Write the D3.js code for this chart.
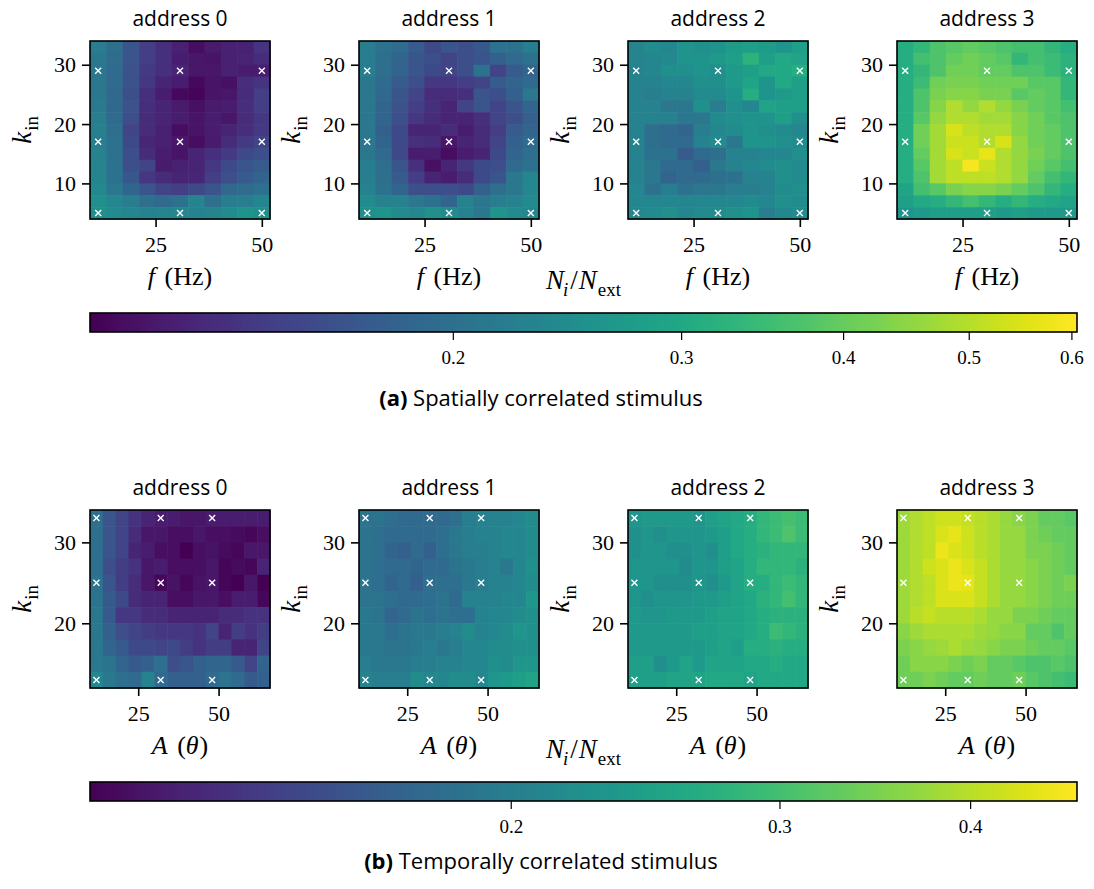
<!DOCTYPE html>
<html>
<head>
<meta charset="utf-8">
<script src="https://cdn.jsdelivr.net/npm/d3@7"></script>
<style>
  body { margin: 0; background: #fff; }
  .serif { font-family: "Liberation Serif", "DejaVu Serif", serif; }
  .sans { font-family: "Open Sans", "DejaVu Sans", sans-serif; }
</style>
</head>
<body>
<svg id="fig" width="1094" height="889"></svg>
<script>
"use strict";

// ---- data: (a) spatially correlated stimulus, rows k_in = 33 .. 5 ----
const freqHz = [11.5, 15.35, 19.2, 23.05, 26.9, 30.75, 34.6, 38.45, 42.3, 46.15, 50];
const kInSpatial = [33, 31, 29, 27, 25, 23, 21, 19, 17, 15, 13, 11, 9, 7, 5];
const spatialTicksX = [25, 50];
const spatialTicksK = [10, 20, 30];
const spatialMarkF = [11.5, 30.75, 50];
const spatialMarkK = [5, 17, 29];
const spatialCbarRange = [0.105, 0.606];
const spatialCbarTicks = [0.2, 0.3, 0.4, 0.5, 0.6];

const spatialAddr0 = [
  [0.219, 0.198, 0.166, 0.144, 0.134, 0.123, 0.111, 0.119, 0.123, 0.123, 0.137],
  [0.211, 0.194, 0.166, 0.144, 0.134, 0.121, 0.117, 0.115, 0.123, 0.125, 0.130],
  [0.211, 0.191, 0.163, 0.141, 0.134, 0.125, 0.117, 0.117, 0.123, 0.121, 0.121],
  [0.211, 0.191, 0.163, 0.139, 0.125, 0.121, 0.109, 0.115, 0.113, 0.132, 0.137],
  [0.211, 0.188, 0.160, 0.134, 0.121, 0.109, 0.107, 0.115, 0.117, 0.130, 0.144],
  [0.215, 0.188, 0.163, 0.132, 0.125, 0.119, 0.113, 0.119, 0.121, 0.132, 0.144],
  [0.219, 0.191, 0.160, 0.130, 0.125, 0.121, 0.115, 0.121, 0.117, 0.130, 0.139],
  [0.223, 0.198, 0.149, 0.130, 0.123, 0.111, 0.115, 0.121, 0.125, 0.132, 0.141],
  [0.219, 0.201, 0.155, 0.127, 0.123, 0.117, 0.111, 0.119, 0.130, 0.141, 0.149],
  [0.227, 0.204, 0.160, 0.130, 0.121, 0.115, 0.125, 0.134, 0.141, 0.155, 0.160],
  [0.231, 0.204, 0.160, 0.149, 0.119, 0.123, 0.125, 0.139, 0.155, 0.166, 0.172],
  [0.231, 0.204, 0.169, 0.139, 0.130, 0.125, 0.127, 0.144, 0.160, 0.172, 0.185],
  [0.239, 0.211, 0.185, 0.166, 0.149, 0.144, 0.155, 0.166, 0.188, 0.194, 0.204],
  [0.252, 0.235, 0.219, 0.198, 0.191, 0.204, 0.231, 0.198, 0.219, 0.219, 0.235],
  [0.252, 0.243, 0.235, 0.227, 0.231, 0.235, 0.227, 0.231, 0.243, 0.261, 0.252]
];
const spatialAddr1 = [
  [0.219, 0.204, 0.194, 0.172, 0.155, 0.166, 0.160, 0.169, 0.204, 0.204, 0.219],
  [0.219, 0.198, 0.185, 0.166, 0.160, 0.149, 0.160, 0.166, 0.178, 0.191, 0.204],
  [0.219, 0.198, 0.185, 0.166, 0.155, 0.149, 0.160, 0.204, 0.149, 0.172, 0.185],
  [0.211, 0.191, 0.172, 0.160, 0.139, 0.139, 0.144, 0.149, 0.172, 0.185, 0.191],
  [0.211, 0.188, 0.166, 0.149, 0.130, 0.130, 0.134, 0.166, 0.160, 0.178, 0.211],
  [0.211, 0.185, 0.163, 0.144, 0.134, 0.125, 0.149, 0.166, 0.149, 0.166, 0.185],
  [0.211, 0.185, 0.160, 0.139, 0.130, 0.125, 0.125, 0.134, 0.149, 0.160, 0.178],
  [0.211, 0.178, 0.155, 0.125, 0.125, 0.130, 0.121, 0.130, 0.144, 0.172, 0.185],
  [0.211, 0.185, 0.155, 0.134, 0.130, 0.117, 0.125, 0.130, 0.149, 0.178, 0.191],
  [0.211, 0.191, 0.155, 0.121, 0.121, 0.111, 0.121, 0.125, 0.155, 0.185, 0.198],
  [0.219, 0.198, 0.166, 0.134, 0.113, 0.125, 0.139, 0.155, 0.160, 0.191, 0.204],
  [0.219, 0.198, 0.172, 0.144, 0.125, 0.121, 0.130, 0.155, 0.166, 0.211, 0.235],
  [0.227, 0.204, 0.185, 0.160, 0.160, 0.160, 0.155, 0.178, 0.198, 0.211, 0.235],
  [0.243, 0.227, 0.227, 0.211, 0.204, 0.185, 0.227, 0.211, 0.219, 0.227, 0.243],
  [0.252, 0.261, 0.243, 0.235, 0.252, 0.243, 0.227, 0.211, 0.261, 0.243, 0.235]
];
const spatialAddr2 = [
  [0.231, 0.243, 0.235, 0.261, 0.252, 0.261, 0.275, 0.280, 0.275, 0.261, 0.280],
  [0.231, 0.235, 0.239, 0.261, 0.261, 0.271, 0.280, 0.323, 0.280, 0.300, 0.290],
  [0.227, 0.235, 0.252, 0.252, 0.261, 0.252, 0.271, 0.280, 0.300, 0.300, 0.311],
  [0.227, 0.227, 0.235, 0.235, 0.252, 0.252, 0.271, 0.290, 0.261, 0.300, 0.280],
  [0.227, 0.219, 0.227, 0.227, 0.243, 0.243, 0.261, 0.311, 0.261, 0.271, 0.280],
  [0.227, 0.227, 0.211, 0.211, 0.252, 0.219, 0.252, 0.235, 0.290, 0.280, 0.280],
  [0.227, 0.227, 0.227, 0.211, 0.211, 0.243, 0.252, 0.261, 0.261, 0.280, 0.252],
  [0.227, 0.198, 0.191, 0.185, 0.219, 0.235, 0.243, 0.261, 0.252, 0.243, 0.235],
  [0.227, 0.198, 0.191, 0.191, 0.227, 0.243, 0.211, 0.261, 0.261, 0.252, 0.243],
  [0.227, 0.204, 0.204, 0.172, 0.191, 0.198, 0.227, 0.227, 0.235, 0.235, 0.252],
  [0.227, 0.211, 0.191, 0.191, 0.178, 0.211, 0.227, 0.235, 0.243, 0.252, 0.243],
  [0.227, 0.211, 0.185, 0.191, 0.191, 0.198, 0.204, 0.227, 0.227, 0.252, 0.243],
  [0.235, 0.204, 0.219, 0.204, 0.211, 0.211, 0.219, 0.219, 0.227, 0.243, 0.252],
  [0.235, 0.235, 0.235, 0.235, 0.235, 0.235, 0.235, 0.243, 0.235, 0.252, 0.243],
  [0.235, 0.243, 0.252, 0.235, 0.243, 0.243, 0.252, 0.261, 0.219, 0.235, 0.243]
];
const spatialAddr3 = [
  [0.311, 0.335, 0.371, 0.385, 0.399, 0.385, 0.371, 0.358, 0.358, 0.335, 0.311],
  [0.311, 0.358, 0.371, 0.399, 0.413, 0.399, 0.385, 0.335, 0.358, 0.346, 0.323],
  [0.311, 0.335, 0.371, 0.413, 0.413, 0.399, 0.399, 0.371, 0.371, 0.346, 0.323],
  [0.311, 0.346, 0.413, 0.426, 0.426, 0.413, 0.413, 0.413, 0.385, 0.385, 0.335],
  [0.311, 0.371, 0.426, 0.441, 0.441, 0.426, 0.426, 0.385, 0.399, 0.385, 0.335],
  [0.311, 0.371, 0.441, 0.491, 0.457, 0.491, 0.457, 0.426, 0.399, 0.385, 0.358],
  [0.311, 0.385, 0.457, 0.491, 0.491, 0.474, 0.474, 0.441, 0.413, 0.385, 0.371],
  [0.311, 0.413, 0.474, 0.546, 0.508, 0.491, 0.491, 0.441, 0.413, 0.399, 0.371],
  [0.311, 0.413, 0.474, 0.527, 0.527, 0.491, 0.546, 0.457, 0.413, 0.399, 0.371],
  [0.311, 0.399, 0.474, 0.546, 0.527, 0.566, 0.491, 0.457, 0.426, 0.399, 0.371],
  [0.311, 0.385, 0.474, 0.508, 0.590, 0.527, 0.491, 0.457, 0.413, 0.385, 0.358],
  [0.311, 0.371, 0.474, 0.508, 0.508, 0.508, 0.491, 0.457, 0.399, 0.358, 0.335],
  [0.290, 0.358, 0.385, 0.426, 0.441, 0.441, 0.426, 0.399, 0.371, 0.335, 0.311],
  [0.280, 0.300, 0.311, 0.335, 0.358, 0.335, 0.311, 0.335, 0.311, 0.300, 0.290],
  [0.261, 0.271, 0.280, 0.280, 0.280, 0.280, 0.271, 0.280, 0.271, 0.271, 0.271]
];

// ---- data: (b) temporally correlated stimulus, rows k_in = 33 .. 13 ----
const amplitude = [12, 16, 20, 24, 28, 32, 36, 40, 44, 48, 52, 56, 60, 64];
const kInTemporal = [33, 31, 29, 27, 25, 23, 21, 19, 17, 15, 13];
const temporalTicksX = [25, 50];
const temporalTicksK = [20, 30];
const temporalMarkA = [12, 32, 48];
const temporalMarkK = [13, 25, 33];
const temporalCbarRange = [0.106, 0.470];
const temporalCbarTicks = [0.2, 0.3, 0.4];

const temporalAddr0 = [
  [0.181, 0.156, 0.143, 0.131, 0.123, 0.119, 0.119, 0.116, 0.116, 0.119, 0.119, 0.119, 0.119, 0.119],
  [0.181, 0.156, 0.143, 0.127, 0.116, 0.116, 0.112, 0.112, 0.116, 0.112, 0.112, 0.111, 0.109, 0.112],
  [0.181, 0.156, 0.143, 0.123, 0.119, 0.112, 0.112, 0.106, 0.112, 0.114, 0.111, 0.109, 0.116, 0.116],
  [0.181, 0.151, 0.138, 0.131, 0.116, 0.119, 0.112, 0.112, 0.112, 0.116, 0.108, 0.111, 0.109, 0.123],
  [0.187, 0.156, 0.138, 0.127, 0.116, 0.109, 0.114, 0.109, 0.114, 0.116, 0.108, 0.106, 0.116, 0.106],
  [0.187, 0.161, 0.147, 0.127, 0.123, 0.123, 0.112, 0.112, 0.116, 0.116, 0.112, 0.119, 0.119, 0.109],
  [0.192, 0.161, 0.134, 0.134, 0.127, 0.127, 0.123, 0.123, 0.123, 0.123, 0.127, 0.127, 0.131, 0.131],
  [0.192, 0.166, 0.151, 0.143, 0.138, 0.134, 0.134, 0.134, 0.131, 0.143, 0.123, 0.138, 0.131, 0.138],
  [0.192, 0.171, 0.161, 0.147, 0.147, 0.143, 0.147, 0.138, 0.131, 0.138, 0.138, 0.123, 0.123, 0.143],
  [0.192, 0.187, 0.171, 0.161, 0.166, 0.181, 0.151, 0.156, 0.166, 0.171, 0.171, 0.161, 0.143, 0.171],
  [0.210, 0.192, 0.181, 0.176, 0.204, 0.176, 0.166, 0.166, 0.166, 0.176, 0.187, 0.176, 0.161, 0.166]
];
const temporalAddr1 = [
  [0.187, 0.187, 0.181, 0.176, 0.176, 0.176, 0.176, 0.181, 0.198, 0.204, 0.204, 0.204, 0.210, 0.217],
  [0.187, 0.181, 0.176, 0.176, 0.176, 0.176, 0.181, 0.192, 0.198, 0.204, 0.204, 0.210, 0.210, 0.217],
  [0.187, 0.181, 0.171, 0.166, 0.176, 0.166, 0.181, 0.192, 0.198, 0.198, 0.204, 0.210, 0.210, 0.217],
  [0.187, 0.181, 0.176, 0.176, 0.171, 0.176, 0.176, 0.187, 0.192, 0.198, 0.204, 0.192, 0.210, 0.223],
  [0.187, 0.181, 0.171, 0.176, 0.166, 0.181, 0.181, 0.181, 0.192, 0.198, 0.204, 0.204, 0.210, 0.217],
  [0.187, 0.187, 0.181, 0.176, 0.176, 0.181, 0.187, 0.176, 0.204, 0.204, 0.204, 0.210, 0.210, 0.230],
  [0.192, 0.187, 0.171, 0.176, 0.187, 0.181, 0.187, 0.181, 0.181, 0.204, 0.210, 0.210, 0.217, 0.223],
  [0.192, 0.192, 0.181, 0.187, 0.192, 0.192, 0.198, 0.204, 0.217, 0.204, 0.210, 0.217, 0.230, 0.223],
  [0.192, 0.192, 0.187, 0.187, 0.192, 0.198, 0.192, 0.198, 0.210, 0.210, 0.217, 0.217, 0.223, 0.223],
  [0.198, 0.192, 0.192, 0.192, 0.198, 0.198, 0.204, 0.204, 0.210, 0.210, 0.223, 0.217, 0.230, 0.230],
  [0.204, 0.198, 0.198, 0.198, 0.217, 0.210, 0.210, 0.217, 0.217, 0.210, 0.230, 0.237, 0.244, 0.251]
];
const temporalAddr2 = [
  [0.230, 0.237, 0.237, 0.237, 0.237, 0.230, 0.244, 0.251, 0.259, 0.267, 0.283, 0.292, 0.301, 0.292],
  [0.223, 0.230, 0.223, 0.230, 0.230, 0.230, 0.237, 0.244, 0.259, 0.267, 0.283, 0.292, 0.310, 0.292],
  [0.223, 0.230, 0.230, 0.223, 0.223, 0.230, 0.223, 0.244, 0.259, 0.267, 0.275, 0.283, 0.283, 0.283],
  [0.230, 0.230, 0.230, 0.230, 0.217, 0.230, 0.230, 0.244, 0.251, 0.267, 0.283, 0.283, 0.283, 0.275],
  [0.230, 0.230, 0.223, 0.223, 0.223, 0.230, 0.223, 0.237, 0.251, 0.267, 0.267, 0.283, 0.292, 0.283],
  [0.230, 0.223, 0.230, 0.230, 0.230, 0.237, 0.237, 0.244, 0.251, 0.259, 0.275, 0.283, 0.301, 0.283],
  [0.237, 0.230, 0.230, 0.237, 0.237, 0.237, 0.244, 0.251, 0.251, 0.259, 0.267, 0.275, 0.275, 0.275],
  [0.237, 0.237, 0.237, 0.237, 0.237, 0.244, 0.244, 0.251, 0.251, 0.259, 0.267, 0.292, 0.283, 0.275],
  [0.237, 0.237, 0.237, 0.237, 0.237, 0.237, 0.244, 0.251, 0.244, 0.267, 0.267, 0.275, 0.267, 0.267],
  [0.244, 0.244, 0.223, 0.237, 0.251, 0.237, 0.251, 0.251, 0.251, 0.259, 0.259, 0.267, 0.259, 0.259],
  [0.244, 0.244, 0.244, 0.251, 0.251, 0.251, 0.259, 0.259, 0.259, 0.251, 0.259, 0.259, 0.259, 0.259]
];
const temporalAddr3 = [
  [0.377, 0.394, 0.406, 0.419, 0.419, 0.413, 0.400, 0.388, 0.371, 0.360, 0.350, 0.329, 0.329, 0.319],
  [0.377, 0.394, 0.406, 0.431, 0.444, 0.419, 0.400, 0.388, 0.371, 0.371, 0.350, 0.339, 0.329, 0.329],
  [0.377, 0.394, 0.406, 0.450, 0.431, 0.419, 0.400, 0.388, 0.371, 0.371, 0.350, 0.350, 0.339, 0.329],
  [0.377, 0.394, 0.419, 0.431, 0.450, 0.431, 0.413, 0.388, 0.371, 0.371, 0.360, 0.350, 0.339, 0.329],
  [0.377, 0.394, 0.406, 0.431, 0.450, 0.444, 0.413, 0.388, 0.371, 0.371, 0.360, 0.350, 0.339, 0.350],
  [0.377, 0.394, 0.406, 0.431, 0.431, 0.431, 0.413, 0.388, 0.371, 0.371, 0.360, 0.350, 0.339, 0.339],
  [0.377, 0.400, 0.413, 0.400, 0.400, 0.400, 0.388, 0.371, 0.371, 0.350, 0.350, 0.339, 0.329, 0.329],
  [0.360, 0.377, 0.388, 0.388, 0.388, 0.388, 0.377, 0.371, 0.360, 0.360, 0.329, 0.329, 0.310, 0.329],
  [0.350, 0.360, 0.371, 0.377, 0.388, 0.377, 0.371, 0.360, 0.350, 0.350, 0.339, 0.329, 0.329, 0.319],
  [0.339, 0.360, 0.360, 0.360, 0.350, 0.339, 0.350, 0.329, 0.329, 0.319, 0.310, 0.310, 0.319, 0.310],
  [0.339, 0.339, 0.350, 0.339, 0.329, 0.329, 0.339, 0.329, 0.329, 0.339, 0.319, 0.310, 0.301, 0.292]
];

const panelTitles = ["address 0", "address 1", "address 2", "address 3"];

// ---- layout ----
const svg = d3.select("#fig");
const panelLeft = [90, 359, 628, 897];
const W = 180, H = 178;
const cbarLeft = 90, cbarWidth = 987, cbarHeight = 19;

// writes a list of {t, i (italic), sub} pieces as tspans
function mathText(sel, parts, size)
{
	let lastSub = false;
	parts.forEach(function(p)
	{
		let ts = sel.append("tspan").text(p.t);
		if (p.i) ts.attr("font-style", "italic");
		if (p.sub) {
			ts.attr("font-size", size * 0.7);
			if (!lastSub) ts.attr("dy", size * 0.25);
		} else if (lastSub) {
			ts.attr("dy", -size * 0.25);
		}
		if (p.dx) ts.attr("dx", p.dx);
		lastSub = !!p.sub;
	});
}

const kinParts = [{t: "k", i: true}, {t: "in", sub: true, dx: 1}];
const ratioParts = [{t: "N", i: true}, {t: "i", i: true, sub: true, dx: -1}, {t: "/", dx: 2}, {t: "N", i: true, dx: 1}, {t: "ext", sub: true, dx: 1}];

function drawPanel(g, grid, xVals, yVals, color, xTicks, yTicks, markX, markY, xParts)
{
	let dx = xVals[1] - xVals[0];
	let dk = Math.abs(yVals[1] - yVals[0]);
	let x = d3.scaleLinear()
		.domain([xVals[0] - dx / 2, xVals[xVals.length - 1] + dx / 2])
		.range([0, W]);
	let y = d3.scaleLinear()
		.domain([d3.min(yVals) - dk / 2, d3.max(yVals) + dk / 2])
		.range([H, 0]);

	let cells = [];
	grid.forEach(function(row, i)
	{
		row.forEach(function(v, j)
		{
			cells.push({f: xVals[j], k: yVals[i], v: v});
		});
	});

	g.append("g")
		.selectAll("rect")
		.data(cells)
		.enter().append("rect")
		.attr("x", d => x(d.f - dx / 2))
		.attr("y", d => y(d.k + dk / 2))
		.attr("width", d => x(d.f + dx / 2) - x(d.f - dx / 2) + 0.6)
		.attr("height", d => y(d.k - dk / 2) - y(d.k + dk / 2) + 0.6)
		.attr("fill", d => color(d.v));

	// white x markers
	let marks = [];
	markY.forEach(function(k)
	{
		markX.forEach(function(f) { marks.push({f: f, k: k}); });
	});
	g.append("g")
		.selectAll("path")
		.data(marks)
		.enter().append("path")
		.attr("transform", d => "translate(" + x(d.f) + "," + y(d.k) + ")")
		.attr("d", "M-3,-3L3,3M-3,3L3,-3")
		.attr("stroke", "#fff")
		.attr("stroke-width", 1.4);

	g.append("rect")
		.attr("width", W).attr("height", H)
		.attr("fill", "none").attr("stroke", "#000").attr("stroke-width", 1.6);

	let xAxis = g.append("g")
		.attr("class", "serif")
		.attr("transform", "translate(0," + H + ")")
		.call(d3.axisBottom(x).tickValues(xTicks).tickSize(8).tickPadding(6).tickFormat(d3.format("d")));
	let yAxis = g.append("g")
		.attr("class", "serif")
		.call(d3.axisLeft(y).tickValues(yTicks).tickSize(8).tickPadding(6).tickFormat(d3.format("d")));
	[xAxis, yAxis].forEach(function(a)
	{
		a.select(".domain").remove();
		a.selectAll(".tick line").attr("stroke-width", 1.6);
		a.selectAll("text").attr("font-size", 22).attr("font-family", null).attr("fill", "#000");
	});
	xAxis.selectAll("text").attr("dy", "0.85em");

	let xl = g.append("text")
		.attr("class", "serif")
		.attr("x", W / 2).attr("y", H + 66)
		.attr("text-anchor", "middle")
		.attr("font-size", 26);
	mathText(xl, xParts, 26);

	let yl = g.append("text")
		.attr("class", "serif")
		.attr("transform", "translate(-59," + (H / 2) + ") rotate(-90)")
		.attr("text-anchor", "middle")
		.attr("font-size", 27);
	mathText(yl, kinParts, 27);
}

function drawColorbar(top, color, range, ticks)
{
	let g = svg.append("g").attr("transform", "translate(" + cbarLeft + "," + top + ")");
	let id = "grad" + top;
	let grad = svg.append("defs").append("linearGradient").attr("id", id);
	let n = 64;
	d3.range(n + 1).forEach(function(i)
	{
		let v = range[0] * Math.pow(range[1] / range[0], i / n);
		grad.append("stop").attr("offset", (i / n * 100) + "%").attr("stop-color", color(v));
	});
	g.append("rect")
		.attr("width", cbarWidth).attr("height", cbarHeight)
		.attr("fill", "url(#" + id + ")")
		.attr("stroke", "#000").attr("stroke-width", 1.6);

	let s = d3.scaleLog().domain(range).range([0, cbarWidth]);
	let ax = g.append("g")
		.attr("class", "serif")
		.attr("transform", "translate(0," + cbarHeight + ")")
		.call(d3.axisBottom(s).tickValues(ticks).tickSize(8).tickPadding(6).tickFormat(d3.format(".1f")));
	ax.select(".domain").remove();
	ax.selectAll(".tick line").attr("stroke-width", 1.2);
	ax.selectAll("text").attr("font-size", 19).attr("font-family", null).attr("fill", "#000").attr("dy", "0.95em");

	let lbl = svg.append("text")
		.attr("class", "serif")
		.attr("x", cbarLeft + cbarWidth / 2).attr("y", top - 24)
		.attr("text-anchor", "middle")
		.attr("font-size", 27);
	mathText(lbl, ratioParts, 27);
}

function drawCaption(y, tag, text)
{
	let t = svg.append("text")
		.attr("class", "sans")
		.attr("x", 541).attr("y", y)
		.attr("text-anchor", "middle")
		.attr("font-size", 22);
	t.append("tspan").attr("font-weight", "bold").text(tag);
	t.append("tspan").text(" " + text);
}

function drawRow(top, grids, xVals, yVals, range, xTicks, yTicks, markX, markY, xParts, cbarTop, cbarTicks, captionY, tag, caption)
{
	let color = d3.scaleSequentialLog(d3.interpolateViridis).domain(range);
	grids.forEach(function(grid, p)
	{
		let g = svg.append("g").attr("transform", "translate(" + panelLeft[p] + "," + top + ")");
		g.append("text")
			.attr("class", "sans")
			.attr("x", W / 2).attr("y", -15)
			.attr("text-anchor", "middle")
			.attr("font-size", 21)
			.text(panelTitles[p]);
		drawPanel(g, grid, xVals, yVals, color, xTicks, yTicks, markX, markY, xParts);
	});
	drawColorbar(cbarTop, color, range, cbarTicks);
	drawCaption(captionY, tag, caption);
}

drawRow(41, [spatialAddr0, spatialAddr1, spatialAddr2, spatialAddr3], freqHz, kInSpatial,
	spatialCbarRange, spatialTicksX, spatialTicksK, spatialMarkF, spatialMarkK,
	[{t: "f", i: true}, {t: " (Hz)", dx: 3}], 313, spatialCbarTicks, 406, "(a)", "Spatially correlated stimulus");

drawRow(510, [temporalAddr0, temporalAddr1, temporalAddr2, temporalAddr3], amplitude, kInTemporal,
	temporalCbarRange, temporalTicksX, temporalTicksK, temporalMarkA, temporalMarkK,
	[{t: "A", i: true}, {t: " (", dx: 3}, {t: "θ", i: true}, {t: ")", dx: 1}], 782, temporalCbarTicks, 869, "(b)", "Temporally correlated stimulus");
</script>
</body>
</html>
